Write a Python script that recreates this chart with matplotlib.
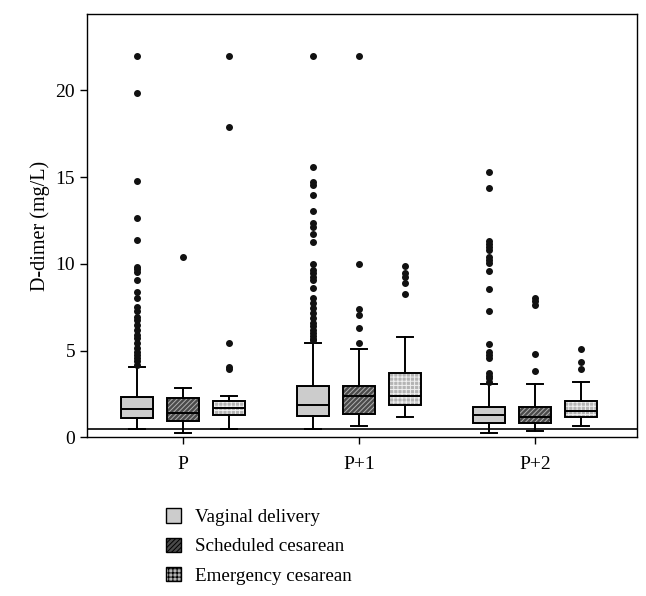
import matplotlib.pyplot as plt
from matplotlib.patches import PathPatch, Patch

plt.rcParams['font.family'] = ['Liberation Serif', 'DejaVu Serif']
plt.rcParams['hatch.linewidth'] = 0.7

groups = ['P', 'P+1', 'P+2']
series = ['Vaginal delivery', 'Scheduled cesarean', 'Emergency cesarean']

# box stats per series, one value per group (P, P+1, P+2)
vag_q1 = [1.13, 1.26, 0.85]
vag_med = [1.65, 1.87, 1.30]
vag_q3 = [2.36, 2.99, 1.78]
vag_lo = [0.48, 0.48, 0.28]
vag_hi = [4.05, 5.47, 3.07]
vag_out = [
    [22.0, 19.85, 14.75, 12.65, 11.35, 9.85, 9.7, 9.55, 9.08, 8.41, 8.06, 7.54,
     7.3, 6.96, 6.78, 6.49, 6.2, 5.91, 5.72, 5.45, 5.14, 4.95, 4.76, 4.57, 4.38, 4.2],
    [22.0, 15.59, 14.7, 14.55, 13.99, 13.07, 12.34, 12.15, 11.71, 11.29, 9.98,
     9.65, 9.45, 9.27, 9.08, 8.64, 8.04, 7.75, 7.45, 7.16, 6.87, 6.58, 6.4, 6.2,
     6.0, 5.85, 5.7, 5.6],
    [15.29, 14.36, 11.34, 11.15, 10.95, 10.81, 10.42, 10.2, 10.08, 9.58, 8.58,
     7.27, 5.39, 4.95, 4.75, 4.56, 3.74, 3.55, 3.4, 3.22],
]

sch_q1 = [0.96, 1.35, 0.85]
sch_med = [1.40, 2.39, 1.20]
sch_q3 = [2.30, 2.99, 1.78]
sch_lo = [0.28, 0.66, 0.37]
sch_hi = [2.87, 5.08, 3.07]
sch_out = [
    [10.39],
    [22.0, 9.98, 7.4, 7.08, 6.28, 5.47],
    [8.06, 7.85, 7.64, 4.79, 3.85],
]

emg_q1 = [1.30, 1.87, 1.20]
emg_med = [1.72, 2.39, 1.55]
emg_q3 = [2.10, 3.70, 2.10]
emg_lo = [0.48, 1.16, 0.66]
emg_hi = [2.39, 5.77, 3.18]
emg_out = [
    [22.0, 17.88, 5.47, 4.08, 3.93],
    [9.88, 9.5, 9.27, 8.89, 8.27],
    [5.08, 4.33, 3.95],
]

ref_line = 0.5

styles = [
    dict(face='#cccccc', hatch=None, hcol='black'),
    dict(face='#4a4a4a', hatch='///////', hcol='#b0b0b0'),
    dict(face='#b4b4b4', hatch='++++', hcol='#f0f0f0'),
]

all_stats = [
    (vag_q1, vag_med, vag_q3, vag_lo, vag_hi, vag_out),
    (sch_q1, sch_med, sch_q3, sch_lo, sch_hi, sch_out),
    (emg_q1, emg_med, emg_q3, emg_lo, emg_hi, emg_out),
]

fig = plt.figure(figsize=(6.46, 5.96), dpi=100)
ax = fig.add_axes([0.1347, 0.266, 0.8513, 0.7105])

offset = 0.262
width = 0.18
for s, (q1, med, q3, lo, hi, out) in enumerate(all_stats):
    stats = []
    for g in range(len(groups)):
        stats.append(dict(q1=q1[g], med=med[g], q3=q3[g], whislo=lo[g],
                          whishi=hi[g], fliers=out[g]))
    pos = [g + (s - 1) * offset for g in range(len(groups))]
    st = styles[s]
    bp = ax.bxp(stats, positions=pos, widths=width, patch_artist=True,
                showfliers=True, manage_ticks=False,
                boxprops=dict(facecolor=st['face'], edgecolor=st['hcol'],
                              linewidth=0.6, hatch=st['hatch']),
                medianprops=dict(color='black', linewidth=1.4),
                whiskerprops=dict(color='black', linewidth=1.4),
                capprops=dict(color='black', linewidth=1.4),
                capwidths=width * 0.5,
                flierprops=dict(marker='o', markerfacecolor='#111111',
                                markeredgecolor='#111111', markersize=4.0))
    for b in bp['boxes']:
        ax.add_patch(PathPatch(b.get_path(), fill=False, edgecolor='black',
                               linewidth=1.4, zorder=b.get_zorder() + 0.1))

ax.axhline(ref_line, color='black', linewidth=1.2, zorder=1)

ax.set_xlim(-0.545, 2.58)
ax.set_ylim(0, 24.4)
ax.set_xticks(range(len(groups)))
ax.set_xticklabels(groups, fontsize=14)
ax.set_yticks([0, 5, 10, 15, 20])
ax.tick_params(axis='y', labelsize=14, length=5, width=1)
ax.tick_params(axis='x', length=5, width=1, pad=8)
ax.set_ylabel('D-dimer (mg/L)', fontsize=14.5, labelpad=4)
for sp in ax.spines.values():
    sp.set_linewidth(1.0)

handles = []
for s, st in enumerate(styles):
    handles.append(Patch(facecolor=st['face'], edgecolor='black',
                         hatch=st['hatch'], linewidth=1.0, label=series[s]))
fig.legend(handles=handles, loc='upper left', bbox_to_anchor=(0.245, 0.16),
           frameon=False, fontsize=13.7, handlelength=0.8, handleheight=0.8,
           handletextpad=0.75, labelspacing=0.6, borderaxespad=0)

fig.savefig('out.png', dpi=100)
